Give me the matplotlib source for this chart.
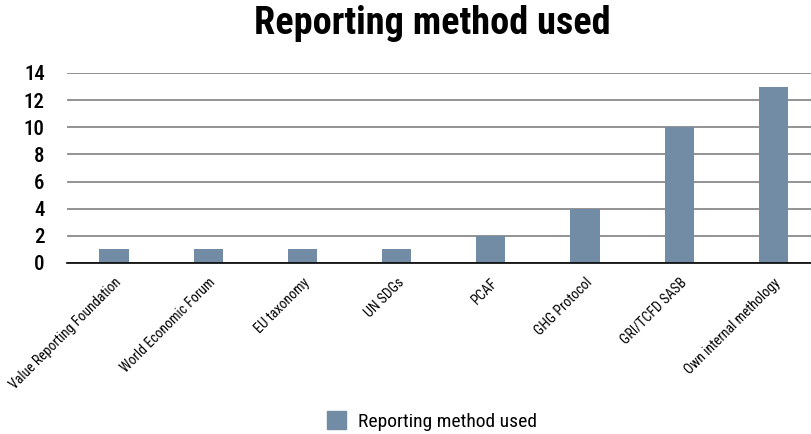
import matplotlib.pyplot as plt
from matplotlib.patches import Patch

methods = ['Value Reporting Foundation', 'World Economic Forum', 'EU taxonomy',
           'UN SDGs', 'PCAF', 'GHG Protocol', 'GRI/TCFD SASB', 'Own internal methology']
counts = [1, 1, 1, 1, 2, 4, 10, 13]
series_name = 'Reporting method used'
bar_color = '#718ca4'

plt.rcParams['font.family'] = ['Roboto Condensed', 'Archivo Narrow', 'Liberation Sans Narrow', 'DejaVu Sans']

fig = plt.figure(figsize=(8.12, 4.34), dpi=100)
ax = fig.add_axes([67/812, 1 - 263/434, (812 - 67)/812, (263 - 73)/434])

x = list(range(len(methods)))
ax.bar(x, counts, width=0.31, color=bar_color, zorder=3)

ax.set_ylim(0, 14)
ax.set_yticks(range(0, 15, 2))
ax.set_xlim(-0.5, 7.41)
ax.set_xticks(x)
ax.set_xticklabels(methods, rotation=45, ha='right', rotation_mode='anchor', fontsize=10)
ax.tick_params(axis='y', length=0, pad=16, labelsize=15)
ax.tick_params(axis='x', length=0, pad=9)
for lab in ax.get_yticklabels():
    lab.set_fontweight('medium')

ax.grid(axis='y', color='#808080', linewidth=1.2, zorder=0)
for s in ['top', 'right', 'left']:
    ax.spines[s].set_visible(False)
ax.spines['bottom'].set_color('black')
ax.spines['bottom'].set_linewidth(1.2)
ax.spines['bottom'].set_zorder(4)

fig.text(432/812, 1 - 24/434, 'Reporting method used', ha='center', va='center',
         fontsize=27.5, fontweight='black')

fig.legend(handles=[Patch(color=bar_color, label=series_name)], loc='center',
           bbox_to_anchor=(432/812, 1 - 421/434), frameon=False, fontsize=14,
           handlelength=1.0, handleheight=1.0, handletextpad=0.6)

fig.savefig('out.png', dpi=100)
